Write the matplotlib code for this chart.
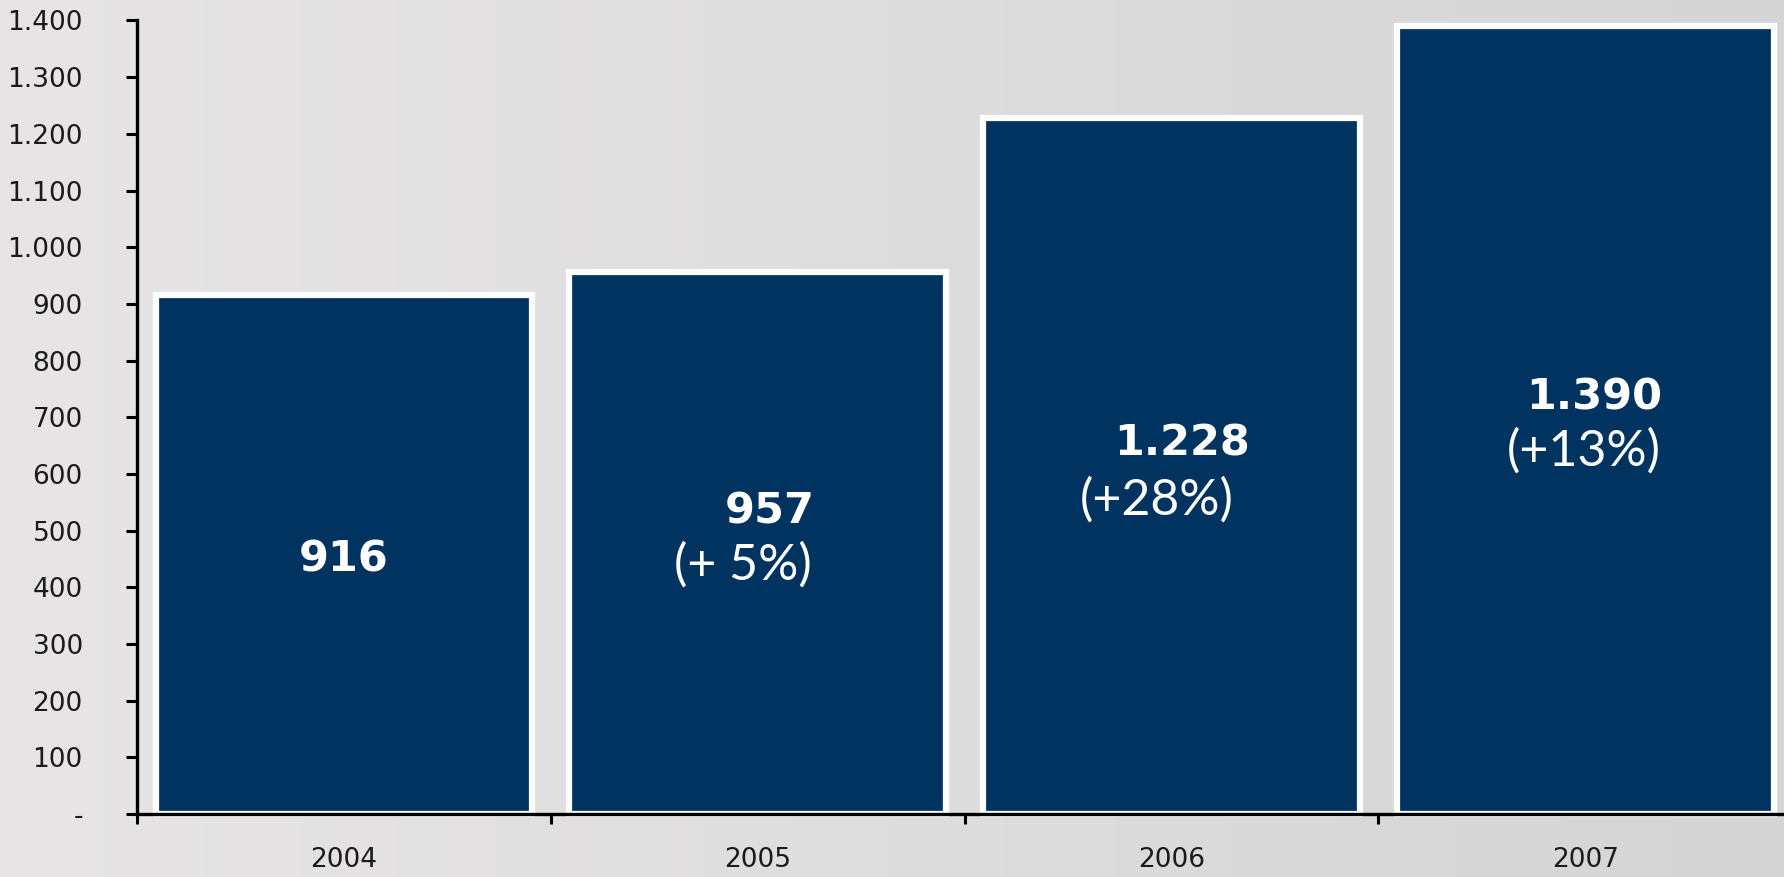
import numpy as np
import matplotlib
matplotlib.use("Agg")
import matplotlib.pyplot as plt
from matplotlib.colors import LinearSegmentedColormap

# Data
years = ["2004", "2005", "2006", "2007"]
values = [916, 957, 1228, 1390]
value_labels = ["916", "957", "1.228", "1.390"]
change_labels = [None, "(+ 5%)", "(+28%)", "(+13%)"]
yticks = [0, 100, 200, 300, 400, 500, 600, 700, 800, 900, 1000, 1100, 1200, 1300, 1400]
ytick_labels = ["-", "100", "200", "300", "400", "500", "600", "700", "800", "900",
                "1.000", "1.100", "1.200", "1.300", "1.400"]

# label placement offsets (x offset in category units, y in data units)
value_pos = [(0.0, 449), (0.03, 533), (0.025, 654), (0.022, 734)]
change_pos = [None, (-0.036, 439), (-0.036, 553), (-0.005, 640)]

bar_color = "#00335f"

fig = plt.figure(figsize=(17.84, 8.77), dpi=100)

# soft grey background, slightly darker on the right
bg = fig.add_axes([0, 0, 1, 1])
grad = np.linspace(0, 1, 256).reshape(1, -1)
cmap = LinearSegmentedColormap.from_list("bg", ["#e7e5e6", "#dedddd", "#d5d5d5"])
bg.imshow(grad, aspect="auto", cmap=cmap, extent=[0, 1, 0, 1])
bg.set_axis_off()

ax = fig.add_axes([137 / 1784, 1 - 814 / 877, 1 - 137 / 1784, (814 - 20.5) / 877])
ax.patch.set_alpha(0)

x = np.arange(len(years))
ax.bar(x, values, width=0.91, color=bar_color, edgecolor="white", linewidth=4.5,
       clip_on=False, zorder=2)

ax.set_xlim(-0.5, 3.48)
ax.set_ylim(0, 1400)

for s in ["top", "right"]:
    ax.spines[s].set_visible(False)
ax.spines["left"].set_linewidth(2.4)
ax.spines["bottom"].set_linewidth(2.4)
ax.spines["left"].set_zorder(3)
ax.spines["bottom"].set_zorder(3)

ax.set_yticks(yticks)
ax.set_yticklabels(ytick_labels, fontsize=19, color="#1a1a1a")
ax.tick_params(axis="y", length=8, width=2.2, pad=31, direction="out")
for lbl in ax.get_yticklabels():
    lbl.set_horizontalalignment("right")

# boundary ticks on the x axis, year labels at bar centres
ax.set_xticks([-0.5, 0.5, 1.5, 2.5])
ax.set_xticklabels([])
ax.tick_params(axis="x", which="major", length=7, width=2.2, direction="out")
ax.set_xticks(x, minor=True)
ax.set_xticklabels(years, minor=True, fontsize=19, color="#1a1a1a")
ax.tick_params(axis="x", which="minor", length=0, pad=24)

for i in range(len(years)):
    dx, yv = value_pos[i]
    ax.text(x[i] + dx, yv, value_labels[i], ha="center", va="center", color="white",
            fontsize=31, fontweight="bold", zorder=4)
    if change_labels[i]:
        dx, yc = change_pos[i]
        ax.text(x[i] + dx, yc, change_labels[i], ha="center", va="center", color="white",
                fontsize=36, family="Lato", fontweight="normal", zorder=4)

fig.savefig("out.png", dpi=100)
